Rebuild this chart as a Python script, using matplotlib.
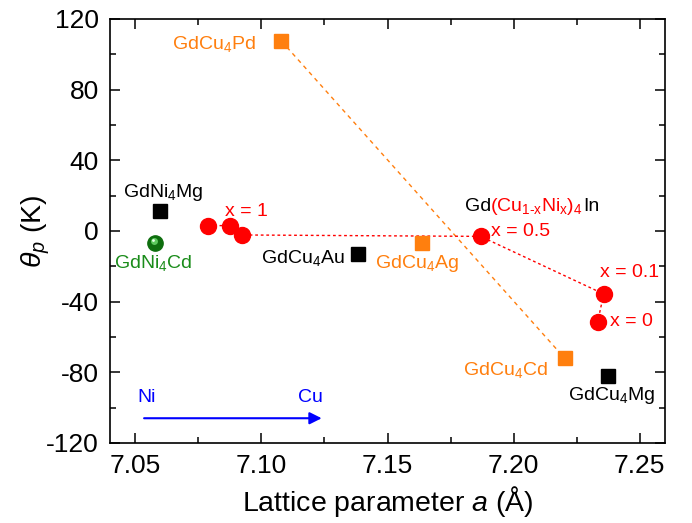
import numpy as np
import matplotlib
matplotlib.use("Agg")
import matplotlib.pyplot as plt
import matplotlib.transforms as mtransforms

plt.rcParams['font.family'] = ['Liberation Sans', 'DejaVu Sans']
plt.rcParams['mathtext.fontset'] = 'custom'
plt.rcParams['mathtext.rm'] = 'Liberation Sans'
plt.rcParams['mathtext.it'] = 'Liberation Sans:italic'
plt.rcParams['axes.unicode_minus'] = False

# Gd(Cu1-xNix)4In series (red circles)
series_a = [7.0790, 7.0877, 7.0925, 7.1869, 7.2357, 7.2333]
series_theta = [3.0, 3.0, -2.3, -3.1, -35.7, -51.5]

# orange compounds
orange_names = ["GdCu$_4$Pd", "GdCu$_4$Ag", "GdCu$_4$Cd"]
orange_a = [7.1079, 7.1635, 7.2202]
orange_theta = [107.5, -6.8, -72.0]

# black compounds
black_names = ["GdNi$_4$Mg", "GdCu$_4$Au", "GdCu$_4$Mg"]
black_a = [7.0599, 7.1381, 7.2373]
black_theta = [11.3, -13.3, -82.0]

# green compound
green_a = [7.0579]
green_theta = [-6.8]

RED = '#FF0000'
ORANGE = '#FF7F0E'
GREEN = '#1A8C1A'
BLUE = '#0000FF'

fig = plt.figure(figsize=(6.92, 5.23), dpi=100)
ax = fig.add_axes([0.159, 0.153, 0.802, 0.811])

# connecting lines
ax.plot([orange_a[0], orange_a[2]], [orange_theta[0], orange_theta[2]],
        color=ORANGE, lw=1.0, dashes=(3, 3), zorder=1)
ax.plot(series_a, series_theta, color=RED, lw=1.0, dashes=(2, 2), zorder=1)

# markers
ax.plot(series_a, series_theta, 'o', color=RED, ms=11.5, mec=RED, zorder=3)
ax.plot(orange_a, orange_theta, 's', color=ORANGE, ms=10, mec=ORANGE, zorder=3)
ax.plot(black_a, black_theta, 's', color='black', ms=9.5, zorder=3)
ax.plot(green_a, green_theta, 'o', color='#0E6E0E', ms=11, mec='#0E6E0E', zorder=3)
hl = mtransforms.offset_copy(ax.transData, fig=fig, x=-1.2, y=1.5, units='points')
ax.plot(green_a, green_theta, 'o', color='#5CC85C', ms=5, mew=0, transform=hl, zorder=4)
hl2 = mtransforms.offset_copy(ax.transData, fig=fig, x=-1.6, y=2.0, units='points')
ax.plot(green_a, green_theta, 'o', color='#E8FFE8', ms=2, mew=0, transform=hl2, zorder=5)

fs = 14
# compound labels
ax.text(7.098, 106, orange_names[0], color=ORANGE, fontsize=fs, ha='right', va='center')
ax.text(7.1452, -18.7, orange_names[1], color=ORANGE, fontsize=fs, ha='left', va='center')
ax.text(7.2135, -78.7, orange_names[2], color=ORANGE, fontsize=fs, ha='right', va='center')
ax.text(7.0611, 21.5, black_names[0], color='black', fontsize=fs, ha='center', va='center')
ax.text(7.1329, -15.3, black_names[1], color='black', fontsize=fs, ha='right', va='center')
ax.text(7.2389, -93.4, black_names[2], color='black', fontsize=fs, ha='center', va='center')
ax.text(7.0571, -18, "GdNi$_4$Cd", color=GREEN, fontsize=fs, ha='center', va='center')

# x labels for the series
ax.text(7.0857, 10.8, "x = 1", color=RED, fontsize=fs, ha='left', va='center')
ax.text(7.1909, -0.5, "x = 0.5", color=RED, fontsize=fs, ha='left', va='center')
ax.text(7.2341, -23.8, "x = 0.1", color=RED, fontsize=fs, ha='left', va='center')
ax.text(7.2381, -51, "x = 0", color=RED, fontsize=fs, ha='left', va='center')

# multi-colour series label
lx, ly = 7.1808, 11
t1 = ax.text(lx, ly, "Gd", color='black', fontsize=fs, ha='left', va='baseline')
fig.canvas.draw()
r = fig.canvas.get_renderer()
w1 = t1.get_window_extent(r).width - 1
tr2 = mtransforms.offset_copy(ax.transData, fig=fig, x=w1, y=0, units='dots')
t2 = ax.text(lx, ly, "(Cu$_\\mathrm{1\u2010x}$Ni$_\\mathrm{x}$)$_4$", color=RED, fontsize=fs,
             ha='left', va='baseline', transform=tr2)
fig.canvas.draw()
w2 = t2.get_window_extent(r).width
tr3 = mtransforms.offset_copy(ax.transData, fig=fig, x=w1 + w2, y=0, units='dots')
ax.text(lx, ly, "In", color='black', fontsize=fs, ha='left', va='baseline', transform=tr3)

# Ni -> Cu arrow
ax.annotate("", xy=(7.125, -106), xytext=(7.0524, -106),
            arrowprops=dict(arrowstyle='-|>', color=BLUE, lw=1.5, mutation_scale=18))
ax.text(7.0545, -94.5, "Ni", color=BLUE, fontsize=14, ha='center', va='center')
ax.text(7.1194, -94.5, "Cu", color=BLUE, fontsize=14, ha='center', va='center')

ax.set_xlim(7.04, 7.26)
ax.set_ylim(-120, 120)
ax.set_xticks(np.arange(7.05, 7.2501, 0.05))
ax.set_xticks(np.arange(7.075, 7.26, 0.05), minor=True)
ax.set_xticklabels(["7.05", "7.10", "7.15", "7.20", "7.25"])
ax.set_yticks(np.arange(-120, 121, 40))
ax.set_yticks(np.arange(-100, 101, 40), minor=True)
ax.tick_params(which='both', direction='in', top=True, right=True, labelsize=19, width=1.1)
ax.tick_params(which='major', length=7, pad=8)
ax.tick_params(which='minor', length=4)
for s in ax.spines.values():
    s.set_linewidth(1.2)

ax.set_xlabel("Lattice parameter $a$ (\u00c5)", fontsize=20.5, labelpad=4)
ax.set_ylabel("$\\theta_p$ (K)", fontsize=20.5, labelpad=-4)

fig.savefig("out.png", dpi=100)
